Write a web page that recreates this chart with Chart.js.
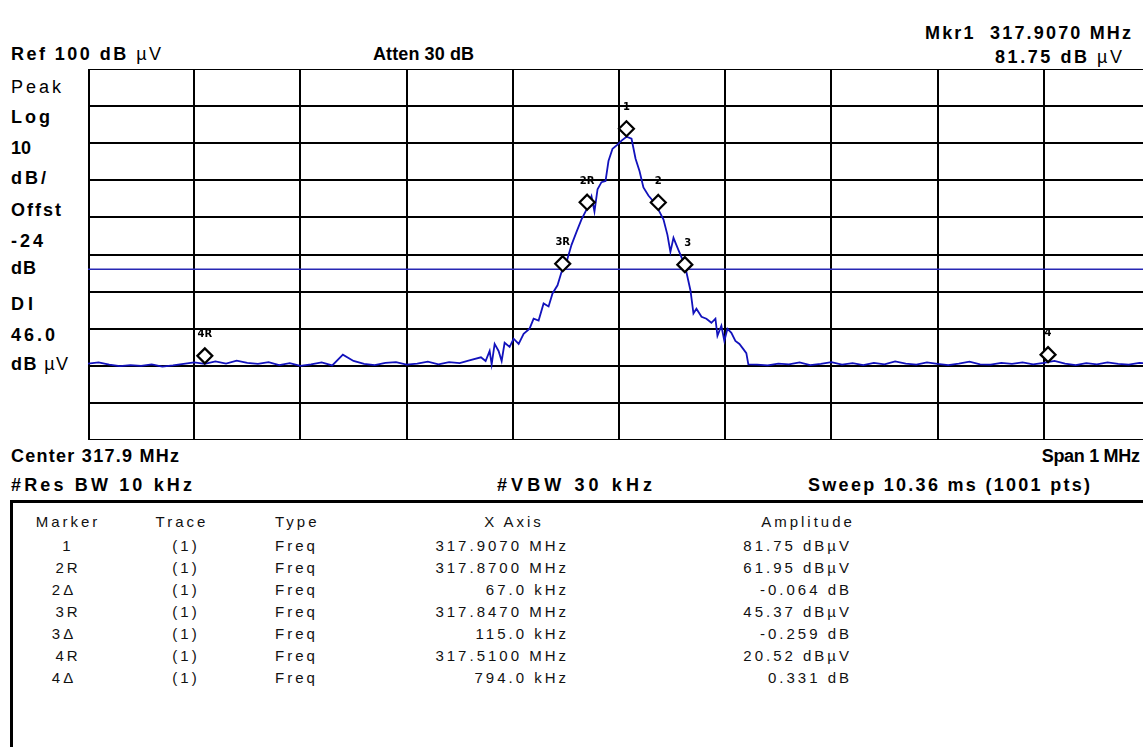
<!DOCTYPE html>
<html>
<head>
<meta charset="utf-8">
<script src="https://cdn.jsdelivr.net/npm/chart.js@4.4.1/dist/chart.umd.min.js"></script>
<style>
  html, body { margin: 0; padding: 0; background: #fff; overflow: hidden; }
  body { width: 1143px; height: 747px; position: relative; font-family: "Liberation Sans", Arial, sans-serif; color: #000; }
  .t { position: absolute; font-size: 18px; font-weight: bold; line-height: 20px; white-space: nowrap; }
  .n { font-weight: normal; }
  #plot { position: absolute; left: 88px; top: 69px; width: 1062px; height: 371px; }
  #box { position: absolute; left: 10px; top: 500px; width: 1160px; height: 260px; border-left: 3px solid #000; border-top: 3px solid #000; box-shadow: 0 1px 0 #999; }
  .c { position: absolute; font-size: 15px; line-height: 16px; white-space: nowrap; letter-spacing: 3px; color: #111; }
</style>
</head>
<body>
<div class="t" data-x="11" data-y="54" data-w="150">Ref 100 dB <span class="n">µV</span></div>
<div class="t" data-x="373" data-y="54" data-w="101">Atten 30 dB</div>
<div class="t" data-r="1131" data-y="33" data-w="206">Mkr1&nbsp; 317.9070 MHz</div>
<div class="t" data-r="1122" data-y="57" data-w="127">81.75 dB <span class="n">µV</span></div>

<div class="t n" data-x="11" data-y="87" data-w="50">Peak</div>
<div class="t" data-x="11" data-y="117" data-w="39">Log</div>
<div class="t" data-x="11" data-y="148" data-w="20">10</div>
<div class="t" data-x="11" data-y="178" data-w="35">dB/</div>
<div class="t" data-x="11" data-y="210" data-w="50">Offst</div>
<div class="t" data-x="11" data-y="241" data-w="32">-24</div>
<div class="t" data-x="11" data-y="268" data-w="25">dB</div>
<div class="t" data-x="11" data-y="304" data-w="22">DI</div>
<div class="t" data-x="11" data-y="335" data-w="44">46.0</div>
<div class="t" data-x="11" data-y="364" data-w="57">dB <span class="n">µV</span></div>

<div id="plot"><canvas id="c"></canvas></div>

<div class="t" data-x="11" data-y="456" data-w="168">Center 317.9 MHz</div>
<div class="t" data-r="1140" data-y="456" data-w="96">Span 1 MHz</div>
<div class="t" data-x="11" data-y="485" data-w="181">#Res BW 10 kHz</div>
<div class="t" data-x="497" data-y="485" data-w="155">#VBW 30 kHz</div>
<div class="t" data-x="808" data-y="485" data-w="282">Sweep 10.36 ms (1001 pts)</div>

<div id="box"></div>
<div id="tbl"></div>

<script>
// sweep: 317.4 .. 318.4 MHz, trace (MHz, dBuV)
const traceFreq = [
  317.40, 317.41, 317.42, 317.43, 317.44, 317.45, 317.46, 317.47, 317.48, 317.49,
  317.50, 317.51, 317.52, 317.53, 317.54, 317.55, 317.56, 317.57, 317.58, 317.59,
  317.60, 317.61, 317.62, 317.63, 317.64, 317.65, 317.66, 317.67, 317.68, 317.69,
  317.70, 317.71, 317.72, 317.73, 317.74, 317.75, 317.76, 317.77,
  317.7744, 317.7782, 317.7801, 317.7829, 317.7866, 317.7895, 317.7923, 317.7970,
  317.8008, 317.8055, 317.8102, 317.8158, 317.8196, 317.8243, 317.8290, 317.8337,
  317.8374, 317.8421, 317.8458, 317.8506, 317.8553, 317.8600, 317.8646, 317.8694,
  317.8741, 317.8769, 317.8798, 317.8835, 317.8873, 317.8901, 317.8939, 317.8986,
  317.9024, 317.9071, 317.9118, 317.9156, 317.9193, 317.9230, 317.9277, 317.9324,
  317.9371, 317.9419, 317.9456, 317.9484, 317.9513, 317.9560, 317.9607, 317.9635,
  317.9673, 317.9701, 317.9729, 317.9777, 317.9823, 317.9870, 317.9908, 317.9927,
  317.9964, 317.9992, 318.0021, 318.0058, 318.0096, 318.0134, 318.0171, 318.0199,
  318.0218,
  318.03, 318.04, 318.05, 318.06, 318.07, 318.08, 318.09, 318.10, 318.11, 318.12,
  318.13, 318.14, 318.15, 318.16, 318.17, 318.18, 318.19, 318.20, 318.21, 318.22,
  318.23, 318.24, 318.25, 318.26, 318.27, 318.28, 318.29, 318.30, 318.31, 318.32,
  318.33, 318.34, 318.35, 318.36, 318.37, 318.38, 318.39, 318.40
];
const traceLevel = [
  20.6, 20.9, 20.3, 19.9, 20.2, 20.0, 20.4, 19.8, 20.1, 20.5,
  20.9, 20.5, 21.2, 20.6, 21.4, 20.8, 20.5, 21.0, 20.2, 20.7,
  20.0, 20.4, 20.9, 20.1, 23.0, 21.3, 20.5, 20.2, 20.8, 21.0,
  20.3, 20.6, 21.1, 20.4, 21.0, 20.7, 21.5, 22.3,
  21.3, 24.0, 20.4, 25.9, 24.0, 21.3, 26.2, 25.1,
  27.3, 25.9, 28.6, 30.0, 32.7, 32.2, 36.8, 36.0,
  39.5, 41.7, 45.2, 48.0, 52.6, 56.1, 59.4, 62.1,
  65.7, 61.6, 67.6, 69.5, 69.8, 75.2, 78.5, 79.6,
  80.7, 81.75, 81.2, 75.8, 72.5, 68.1, 65.9, 64.3,
  62.1, 59.4, 55.3, 50.7, 54.5, 51.2, 48.0, 45.2,
  40.3, 34.1, 35.4, 33.2, 32.7, 31.6, 32.7, 28.1,
  30.8, 26.7, 30.0, 28.9, 26.7, 25.9, 24.5, 23.4,
  20.4,
  20.3, 20.1, 20.6, 20.4, 20.9, 20.2, 20.5, 21.0, 20.3, 20.7,
  20.2, 20.8, 20.4, 21.2, 20.6, 20.3, 20.9, 20.5, 20.2, 20.6,
  21.1, 20.4, 20.3, 20.8, 20.5, 20.9, 20.4, 20.8, 21.3, 20.6,
  20.2, 20.7, 20.4, 20.9, 20.5, 20.3, 20.8, 20.6
];

const displayLine = 46.0;

// markers on the trace
const markerNames = ['1', '2R', '2', '3R', '3', '4R', '4'];
const markerFreq  = [317.907, 317.870, 317.937, 317.847, 317.962, 317.510, 318.304];
const markerLevel = [81.75, 61.95, 61.886, 45.37, 45.111, 20.52, 20.851];

// marker table
const tblMarker = ['1', '2R', '2\u0394', '3R', '3\u0394', '4R', '4\u0394'];
const tblTrace  = ['(1)', '(1)', '(1)', '(1)', '(1)', '(1)', '(1)'];
const tblType   = ['Freq', 'Freq', 'Freq', 'Freq', 'Freq', 'Freq', 'Freq'];
const tblX      = ['317.9070 MHz', '317.8700 MHz', '67.0 kHz', '317.8470 MHz', '115.0 kHz', '317.5100 MHz', '794.0 kHz'];
const tblAmp    = ['81.75 dB\u00b5V', '61.95 dB\u00b5V', '-0.064 dB', '45.37 dB\u00b5V', '-0.259 dB', '20.52 dB\u00b5V', '0.331 dB'];

// header labels: place by centre line and stretch to the screen width
document.querySelectorAll('.t').forEach(el => {
  el.style.top = (+el.dataset.y - 10) + 'px';
  const w = el.getBoundingClientRect().width;
  const n = el.textContent.length;
  const ls = n > 1 ? Math.max(-0.3, (+el.dataset.w - w) / (n - 1)) : 0;
  el.style.letterSpacing = ls + 'px';
  if (el.dataset.r) {
    el.style.right = (1143 - +el.dataset.r - ls) + 'px';
  } else {
    el.style.left = el.dataset.x + 'px';
  }
});

// table text
const tbl = document.getElementById('tbl');
function cell(txt, x, y, align) {
  const d = document.createElement('div');
  d.className = 'c';
  d.textContent = txt;
  d.style.top = (y - 8) + 'px';
  if (align === 'right') d.style.right = (1143 - x - 3) + 'px';
  else if (align === 'center') { d.style.left = (x - 58) + 'px'; d.style.width = '120px'; d.style.textAlign = 'center'; }
  else d.style.left = x + 'px';
  tbl.appendChild(d);
}
cell('Marker', 66, 522, 'center');
cell('Trace', 180, 522, 'center');
cell('Type', 275, 522);
cell('X Axis', 512, 522, 'center');
cell('Amplitude', 806, 522, 'center');
const rowY = [546, 568, 590, 612, 634, 656, 678];
tblMarker.forEach((m, i) => {
  cell(m, m.indexOf('\u0394') > 0 ? 62 : 66, rowY[i], 'center');
  cell(tblTrace[i], 184, rowY[i], 'center');
  cell(tblType[i], 275, rowY[i]);
  cell(tblX[i], 566, rowY[i], 'right');
  cell(tblAmp[i], 849, rowY[i], 'right');
});

const markerPlugin = {
  id: 'markers',
  afterDatasetsDraw(chart) {
    const ctx = chart.ctx, xs = chart.scales.x, ys = chart.scales.y;
    ctx.save();
    markerNames.forEach((name, i) => {
      const px = xs.getPixelForValue(markerFreq[i]);
      const py = ys.getPixelForValue(markerLevel[i]);
      const cy = py - 8;
      const r = 7.5;
      ctx.beginPath();
      ctx.moveTo(px, cy - r);
      ctx.lineTo(px + r, cy);
      ctx.lineTo(px, cy + r);
      ctx.lineTo(px - r, cy);
      ctx.closePath();
      ctx.fillStyle = '#fff';
      ctx.fill();
      ctx.lineWidth = 2.2;
      ctx.strokeStyle = '#000';
      ctx.stroke();
      ctx.fillStyle = '#000';
      ctx.font = 'bold 10px "DejaVu Sans", sans-serif';
      ctx.textAlign = 'center';
      ctx.textBaseline = 'middle';
      ctx.fillText(name, px + (name === '3' ? 3 : 0), cy - 21);
    });
    ctx.restore();
  }
};

new Chart(document.getElementById('c'), {
  type: 'line',
  data: {
    datasets: [{
      data: traceFreq.map((f, i) => ({ x: f, y: traceLevel[i] })),
      borderColor: '#1212bc',
      borderWidth: 1.8,
      pointRadius: 0,
      tension: 0,
      order: 1
    }, {
      data: [{ x: 317.4, y: displayLine }, { x: 318.4, y: displayLine }],
      borderColor: '#2828b4',
      borderWidth: 1.5,
      pointRadius: 0,
      order: 2
    }]
  },
  options: {
    animation: false,
    responsive: true,
    maintainAspectRatio: false,
    layout: { padding: 0 },
    plugins: { legend: { display: false }, tooltip: { enabled: false } },
    scales: {
      x: {
        type: 'linear',
        min: 317.4,
        max: 318.4,
        ticks: { display: false, stepSize: 0.1 },
        grid: { color: '#000', lineWidth: 2, drawTicks: false },
        border: { color: '#000', width: 2 }
      },
      y: {
        min: 0,
        max: 100,
        ticks: { display: false, stepSize: 10 },
        grid: { color: '#000', lineWidth: 2, drawTicks: false },
        border: { color: '#000', width: 3 }
      }
    }
  },
  plugins: [markerPlugin]
});
</script>
</body>
</html>
